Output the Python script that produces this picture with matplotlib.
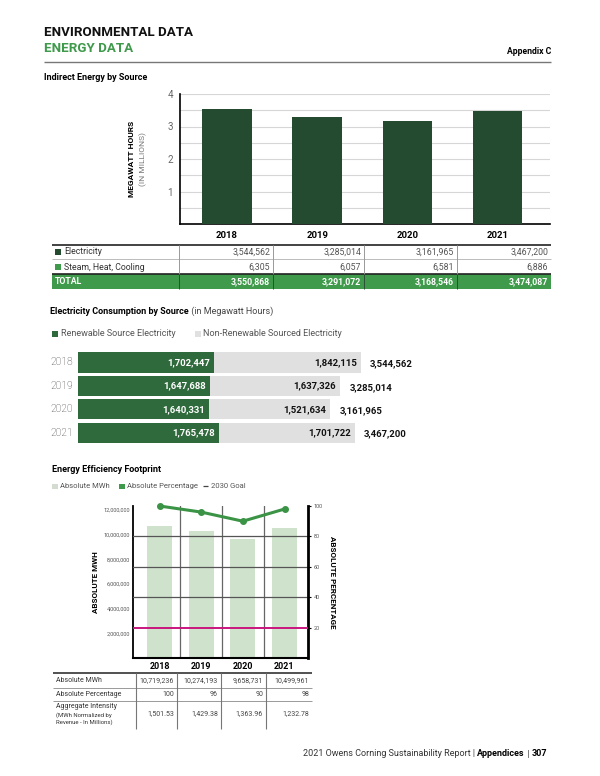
import matplotlib
matplotlib.use("Agg")
import matplotlib.pyplot as plt
from matplotlib.patches import Rectangle

plt.rcParams['font.family'] = ['Roboto', 'DejaVu Sans']

# ---- data read from the page ----
years = ['2018', '2019', '2020', '2021']
electricity = [3544562, 3285014, 3161965, 3467200]
steam = [6305, 6057, 6581, 6886]
total = [3550868, 3291072, 3168546, 3474087]
renewable = [1702447, 1647688, 1640331, 1765478]
nonrenewable = [1842115, 1637326, 1521634, 1701722]
abs_mwh = [10719236, 10274193, 9658731, 10499961]
abs_pct = [100, 96, 90, 98]
intensity = [1501.53, 1429.38, 1363.96, 1232.78]
goal_pct = 20

DARK = '#244b30'
GREEN = '#3f9a4b'
REN = '#2f6a3c'
GRAY = '#e0e0e0'
LIGHTGREEN = '#cfe3cc'
LINEGREEN = '#3b9346'
MAGENTA = '#c8157d'
TXT = '#333333'

W, H = 600, 776
fig = plt.figure(figsize=(W / 100, H / 100), dpi=100)

page = fig.add_axes([0, 0, 1, 1])
page.set_xlim(0, W)
page.set_ylim(H, 0)
page.axis('off')


def ax_at(x0, y0, x1, y1):
    return fig.add_axes([x0 / W, 1 - y1 / H, (x1 - x0) / W, (y1 - y0) / H])


def hline(x0, x1, y, c='#888888', lw=0.8):
    page.plot([x0, x1], [y, y], color=c, lw=lw, solid_capstyle='butt')


def vline(x, y0, y1, c='#888888', lw=0.8):
    page.plot([x, x], [y0, y1], color=c, lw=lw, solid_capstyle='butt')


def fmt(v):
    return f'{v:,}'


# ---- header ----
page.text(44, 33, 'ENVIRONMENTAL DATA', fontsize=9.6, fontweight='bold',
          va='center', color='#111111')
page.text(44, 49, 'ENERGY DATA', fontsize=9.6, fontweight='bold',
          va='center', color=GREEN)
page.text(551, 52, 'Appendix C', fontsize=6.2, fontweight='bold', ha='right', va='center')
hline(44, 551, 62, c='#777777', lw=1)
page.text(44, 77, 'Indirect Energy by Source', fontsize=6.5, fontweight='bold', va='center')

# ---- chart 1: indirect energy ----
ax1 = ax_at(180, 94, 550, 224)
x = range(len(years))
el_m = [v / 1e6 for v in electricity]
st_m = [v / 1e6 for v in steam]
ax1.bar(x, el_m, width=0.55, color=DARK, zorder=3)
ax1.bar(x, st_m, bottom=el_m, width=0.55, color=GREEN, zorder=3)
ax1.set_ylim(0, 4)
ax1.set_xlim(-0.52, 3.58)
for g in [0.5, 1, 1.5, 2, 2.5, 3, 3.5, 4]:
    ax1.axhline(g, color='#d6d6d6', lw=0.8, zorder=1)
ax1.set_yticks([1, 2, 3, 4])
ax1.set_yticklabels(['1', '2', '3', '4'], fontsize=7, color='#666666')
ax1.set_xticks(list(x))
ax1.set_xticklabels(years, fontsize=6.8, fontweight='bold')
ax1.tick_params(length=0, pad=5)
for s in ['top', 'right']:
    ax1.spines[s].set_visible(False)
ax1.spines['left'].set_linewidth(1.2)
ax1.spines['bottom'].set_linewidth(1.2)
page.text(131, 159, 'MEGAWATT HOURS', rotation=90, fontsize=6, fontweight='bold',
          ha='center', va='center')
page.text(143, 159, '(IN MILLIONS)', rotation=90, fontsize=6, color='#777777',
          ha='center', va='center')

# ---- table 1 ----
c1 = [52, 179, 273, 364, 457, 551]
hline(52, 551, 245, c='#222222', lw=1.2)
hline(52, 551, 259, c='#bbbbbb', lw=0.7)
page.add_patch(Rectangle((52, 274), 551 - 52, 15, color=GREEN, lw=0))
hline(52, 551, 274, c='#222222', lw=1.2)
for cx in c1[1:-1]:
    vline(cx, 245, 274, c='#999999', lw=0.7)
    vline(cx, 274, 289, c='#2a4f33', lw=0.7)
rows1 = [('Electricity', electricity, DARK, 252), ('Steam, Heat, Cooling', steam, GREEN, 267)]
for label, vals, col, yy in rows1:
    page.add_patch(Rectangle((55, yy - 2.7), 5.5, 5.5, color=col, lw=0))
    page.text(64, yy, label, fontsize=6.3, color=TXT, va='center')
    for i, v in enumerate(vals):
        page.text(c1[i + 2] - 3, yy, fmt(v), fontsize=6.3, color='#555555', ha='right', va='center')
page.text(55, 281.5, 'TOTAL', fontsize=6.3, color='white', fontweight='bold', va='center')
for i, v in enumerate(total):
    page.text(c1[i + 2] - 3, 281.5, fmt(v), fontsize=6.3, color='white', fontweight='bold',
              ha='right', va='center')

# ---- chart 2: electricity by source ----
t1 = page.text(50, 312, 'Electricity Consumption by Source', fontsize=6.5,
               fontweight='bold', va='center')
page.annotate(' (in Megawatt Hours)', xy=(1, 0), xycoords=t1, fontsize=6.5,
              color='#444444', va='bottom')
page.add_patch(Rectangle((52, 331), 5.5, 5.5, color=REN, lw=0))
page.text(61, 334, 'Renewable Source Electricity', fontsize=6.5, color='#555555', va='center')
page.add_patch(Rectangle((195, 331), 5.5, 5.5, color=GRAY, lw=0))
page.text(203, 334, 'Non-Renewable Sourced Electricity', fontsize=6.5, color='#555555',
          va='center')

ax2 = ax_at(78, 350, 478, 445)
rows = range(len(years))
ax2.barh(rows, renewable, height=0.86, color=REN)
ax2.barh(rows, nonrenewable, left=renewable, height=0.86, color=GRAY)
ax2.set_xlim(0, 5.01e6)
ax2.set_ylim(3.526, -0.534)
ax2.axis('off')
for i in rows:
    r, n = renewable[i], nonrenewable[i]
    ax2.annotate(fmt(r), xy=(r, i), xytext=(-3, 0), textcoords='offset points',
                 ha='right', va='center', fontsize=6.8, fontweight='bold', color='white')
    ax2.annotate(fmt(n), xy=(r + n, i), xytext=(-3, 0), textcoords='offset points',
                 ha='right', va='center', fontsize=6.8, fontweight='bold', color='#111111')
    ax2.annotate(fmt(electricity[i]), xy=(r + n, i), xytext=(6.5, -1), textcoords='offset points',
                 ha='left', va='center', fontsize=6.8, fontweight='bold', color='#111111')
    ax2.annotate(years[i], xy=(0, i), xytext=(-11.5, 0), textcoords='offset points',
                 ha='center', va='center', fontsize=7.5, fontweight='light', color='#3a3a3a')

# ---- chart 3: efficiency footprint ----
page.text(52, 470, 'Energy Efficiency Footprint', fontsize=6.5, fontweight='bold', va='center')
page.add_patch(Rectangle((52, 483.5), 5.5, 5.5, color='#d4dcd2', lw=0))
page.text(60, 486, 'Absolute MWh', fontsize=5.5, color='#555555', va='center')
page.add_patch(Rectangle((119, 483.5), 5.5, 5.5, color=GREEN, lw=0))
page.text(127, 486, 'Absolute Percentage', fontsize=5.5, color='#555555', va='center')
hline(203, 208, 486, c='#444444', lw=0.9)
page.text(211, 486, '2030 Goal', fontsize=5.5, color='#555555', va='center')

ax3 = ax_at(133, 506, 308, 658)
ax3.bar(range(len(years)), abs_mwh, width=0.6, color=LIGHTGREEN, zorder=2)
ax3.set_ylim(0, 12.3e6)
ax3.set_xlim(-0.636, 3.564)
ticks = [2e6, 4e6, 6e6, 8e6, 10e6, 12e6]
ax3.set_yticks(ticks)
ax3.set_yticklabels([fmt(int(t)) for t in ticks], fontsize=4, color='#555555')
ax3.set_xticks(range(len(years)))
ax3.set_xticklabels(years, fontsize=6.5, fontweight='bold')
ax3.tick_params(axis='x', length=0, pad=3)
ax3.tick_params(axis='y', length=0, pad=2)
for xv in [0.5, 1.5, 2.5]:
    ax3.axvline(xv, color='#666666', lw=0.9, zorder=1)
ax3.spines['top'].set_visible(False)
ax3.spines['right'].set_visible(False)
ax3.spines['left'].set_linewidth(1.3)
ax3.spines['bottom'].set_linewidth(1.5)

ax3r = ax3.twinx()
ax3r.set_ylim(0, 100)
ax3r.set_yticks([20, 40, 60, 80, 100])
ax3r.set_yticklabels(['20', '40', '60', '80', '100'], fontsize=4, color='#555555')
ax3r.tick_params(axis='y', length=2.5, width=0.8, pad=1.5)
for g in [40, 60, 80]:
    ax3r.axhline(g, color='#555555', lw=0.9, zorder=1)
ax3r.axhline(goal_pct, color=MAGENTA, lw=1.4, zorder=3)
ax3r.plot(range(len(years)), abs_pct, color=LINEGREEN, lw=2.2, marker='o', ms=4,
          zorder=4, clip_on=False)
for s in ['top', 'left', 'bottom']:
    ax3r.spines[s].set_visible(False)
ax3r.spines['right'].set_linewidth(2)
page.text(95, 582, 'ABSOLUTE MWH', rotation=90, fontsize=5.8, fontweight='bold',
          ha='center', va='center')
page.text(333, 582, 'ABSOLUTE PERCENTAGE', rotation=-90, fontsize=5.8, fontweight='bold',
          ha='center', va='center')

# ---- table 3 ----
c3 = [53, 136, 177, 221, 266, 312]
hline(53, 312, 673, c='#222222', lw=1.1)
hline(53, 312, 688, c='#999999', lw=0.7)
hline(53, 312, 701, c='#999999', lw=0.7)
for cx in c3[1:-1]:
    vline(cx, 673, 729, c='#777777', lw=0.8)
pct_labels = [str(v) for v in abs_pct]
rows3 = [('Absolute MWh', [fmt(v) for v in abs_mwh], 681),
         ('Absolute Percentage', pct_labels, 695),
         (None, [f'{v:,.2f}' for v in intensity], 714)]
for label, vals, yy in rows3:
    if label:
        page.text(56, yy, label, fontsize=5, color=TXT, va='center')
    for i, v in enumerate(vals):
        page.text(c3[i + 2] - 3, yy, v, fontsize=5, color='#444444', ha='right', va='center')
page.text(56, 707, 'Aggregate Intensity', fontsize=5, color=TXT, va='center')
page.text(56, 715.5, '(MWh Normalized by', fontsize=4.3, color=TXT, va='center')
page.text(56, 722.5, 'Revenue - In Millions)', fontsize=4.3, color=TXT, va='center')

# ---- footer ----
f1 = page.text(547, 754, '307', fontsize=6.5, fontweight='bold', ha='right', va='center')
f2 = page.annotate(' | ', xy=(0, 0), xycoords=f1, fontsize=6.5, ha='right', va='bottom',
                   color='#333333')
f3 = page.annotate('Appendices', xy=(0, 0), xycoords=f2, fontsize=6.5, fontweight='bold',
                   ha='right', va='bottom')
page.annotate('2021 Owens Corning Sustainability Report | ', xy=(0, 0), xycoords=f3,
              fontsize=6.5, ha='right', va='bottom', color='#333333')

fig.savefig('out.png', dpi=100)
